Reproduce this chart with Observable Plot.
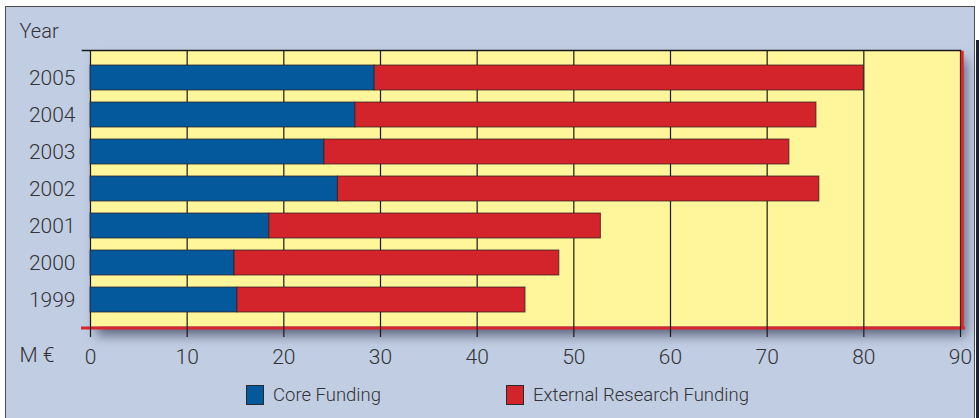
<!DOCTYPE html>
<html>
<head>
<meta charset="utf-8">
<script src="https://cdn.jsdelivr.net/npm/d3@7"></script>
<script src="https://cdn.jsdelivr.net/npm/@observablehq/plot@0.6"></script>
<style>
  html, body { margin: 0; padding: 0; background: #ffffff; }
  #wrap { position: relative; width: 979px; height: 418px; overflow: hidden; font-family: Roboto, "Liberation Sans", sans-serif; }
  .panel { position: absolute; left: 5px; top: 6px; width: 970px; height: 420px; background: #c1cde3; border: 1.5px solid #4a4a4a; box-sizing: border-box; }
  .edge { position: absolute; left: 976px; top: 40px; width: 3px; height: 380px; background: #1e2230; }
  #chart { position: absolute; left: 0; top: 0; }
  #chart svg { display: block; background: transparent; overflow: visible; }
  .legend { position: relative; height: 46px; color: #333; font-size: 18.5px; font-weight: 300; }
  .item { position: absolute; top: 12px; display: flex; align-items: center; }
  .sw { width: 16px; height: 18px; border: 1px solid #2a2a2a; margin-right: 9px; }
</style>
</head>
<body>
<div id="wrap">
  <div class="panel"></div>
  <div class="edge"></div>
  <div id="chart"></div>
</div>
<script>
// Annual funding, million euro
const years = ["1999", "2000", "2001", "2002", "2003", "2004", "2005"];
const coreFunding = [15.2, 14.9, 18.5, 25.6, 24.2, 27.4, 29.4];
const externalFunding = [29.8, 33.6, 34.3, 49.8, 48.1, 47.7, 50.6];
const seriesNames = ["Core Funding", "External Research Funding"];
const seriesColors = ["#03599c", "#d3232b"];
const xTicks = [0, 10, 20, 30, 40, 50, 60, 70, 80, 90];

const rows = years.flatMap((year, i) => [
  {year, series: seriesNames[0], value: coreFunding[i]},
  {year, series: seriesNames[1], value: externalFunding[i]}
]);

const ink = "#333333";
const font = "Roboto, 'Liberation Sans', sans-serif";

const chart = Plot.plot({
  width: 979,
  height: 372,
  marginLeft: 90,
  marginRight: 19,
  marginTop: 50,
  marginBottom: 46,
  style: {fontFamily: font, fontSize: "21px", fontWeight: 300, color: ink, background: "transparent"},
  x: {domain: [0, 90], ticks: xTicks},
  y: {domain: years.slice().reverse(), padding: 0.324, insetTop: 3, insetBottom: 2},
  color: {domain: seriesNames, range: seriesColors},
  marks: [
    Plot.frame({fill: "#fff59b", stroke: null}),
    Plot.ruleX(xTicks, {stroke: "#1a1a1a", strokeWidth: 1.2}),
    Plot.barX(rows, Plot.stackX({
      y: "year", x: "value", fill: "series", order: seriesNames,
      stroke: "#2b2020", strokeOpacity: 0.75, strokeWidth: 1
    })),
    Plot.frame({anchor: "top", stroke: "#1a1a1a", strokeWidth: 1.5, insetLeft: -8}),
    Plot.frame({anchor: "bottom", stroke: "#d9262c", strokeWidth: 3, insetLeft: -8, insetBottom: -1.5, insetRight: -3}),
    Plot.frame({anchor: "right", stroke: "#d9262c", strokeWidth: 3, insetRight: -1.7, insetTop: 1.7}),
    Plot.axisX({ticks: xTicks, tickSize: 11, tickPadding: 12, stroke: "#1a1a1a", strokeWidth: 1.2, fill: ink, label: null, fontSize: 21}),
    Plot.axisY({tickSize: 0, tickPadding: 15, fill: ink, label: null, fontSize: 21}),
    Plot.text(["Year"], {frameAnchor: "top-left", dx: -71, dy: -27, textAnchor: "start", fill: ink, fontSize: 20}),
    Plot.text(["M €"], {frameAnchor: "bottom-left", dx: -71, dy: 35, textAnchor: "start", fill: ink, fontSize: 21})
  ]
});

// soft drop shadow under the plotting area
const frameRect = chart.querySelector('[aria-label="frame"]');
if (frameRect) frameRect.style.filter = "drop-shadow(6px 9px 6px rgba(40, 48, 75, 0.65))";

const legend = document.createElement("div");
legend.className = "legend";
const legendX = [246, 506];
seriesNames.forEach((name, i) => {
  const item = document.createElement("div");
  item.className = "item";
  item.style.left = legendX[i] + "px";
  const sw = document.createElement("div");
  sw.className = "sw";
  sw.style.background = seriesColors[i];
  const label = document.createElement("span");
  label.textContent = name;
  item.append(sw, label);
  legend.append(item);
});

const host = document.getElementById("chart");
host.append(chart, legend);
</script>
</body>
</html>
